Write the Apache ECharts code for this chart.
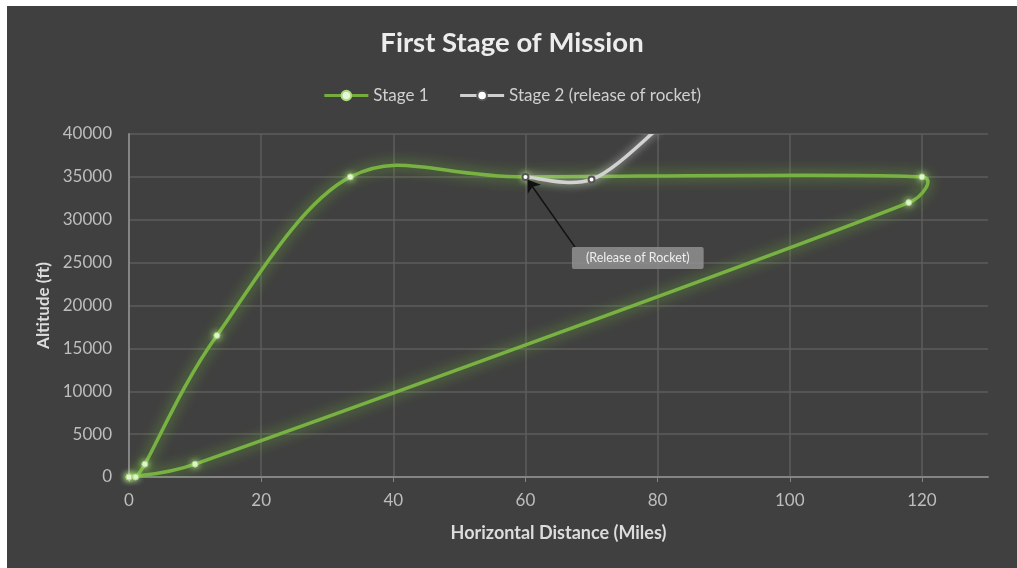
<!DOCTYPE html>
<html><head><meta charset="utf-8">
<script src="https://cdn.jsdelivr.net/npm/echarts@6/dist/echarts.min.js"></script>
<style>
html,body{margin:0;padding:0;background:#ffffff;}
#c{position:absolute;left:7px;top:6px;width:1010px;height:562px;background:#404040;}
</style></head><body><div id="c"></div>
<script>
const titleText = 'First Stage of Mission';
const stage1Name = 'Stage 1';
const stage2Name = 'Stage 2 (release of rocket)';
const xAxisName = 'Horizontal Distance (Miles)';
const yAxisName = 'Altitude (ft)';
const stage1X = [0, 1, 2.4, 13.3, 33.5, 60, 120, 118, 10, 0];
const stage1Y = [0, 0, 1500, 16500, 35000, 35000, 35000, 32000, 1500, 0];
const stage2X = [60, 70, 80];
const stage2Y = [35000, 34700, 40600];
const annotationText = '(Release of Rocket)';
const arrowFrom = [67.5, 26800];
const arrowTo = [60.3, 34700];
const labelAt = [77.0, 25550];

const s1 = stage1X.map((x, i) => [x, stage1Y[i]]);
const s2 = stage2X.map((x, i) => [x, stage2Y[i]]);

// Spreadsheet-style smoothing: Bezier segments with tangent (P2-P0)/6, capped at half the segment length
function smoothRender(points, stroke, width, glow, blur) {
  return function (params, api) {
    const i = params.dataIndex;
    if (i >= points.length - 1) return null;
    const P = points.map(p => api.coord(p));
    const p0 = P[Math.max(i - 1, 0)], p1 = P[i], p2 = P[i + 1], p3 = P[Math.min(i + 2, P.length - 1)];
    const d = (a, b) => Math.hypot(a[0] - b[0], a[1] - b[1]);
    const d12 = d(p1, p2), d02 = d(p0, p2), d13 = d(p1, p3);
    const f = (d02 / 6 < d12 / 2 || d02 === 0) ? 1 / 6 : d12 / d02 / 2;
    const g = (d13 / 6 < d12 / 2 || d13 === 0) ? 1 / 6 : d12 / d13 / 2;
    const cs = params.coordSys;
    return {
      type: 'group',
      clipPath: {type: 'rect', shape: {x: cs.x, y: cs.y, width: cs.width, height: cs.height}},
      children: [{
        type: 'bezierCurve',
        shape: {
          x1: p1[0], y1: p1[1], x2: p2[0], y2: p2[1],
          cpx1: p1[0] + (p2[0] - p0[0]) * f, cpy1: p1[1] + (p2[1] - p0[1]) * f,
          cpx2: p2[0] - (p3[0] - p1[0]) * g, cpy2: p2[1] - (p3[1] - p1[1]) * g
        },
        style: {fill: null, stroke: stroke, lineWidth: width, shadowColor: glow, shadowBlur: blur, lineCap: 'round'}
      }]
    };
  };
}

const chart = echarts.init(document.getElementById('c'));
const font = 'Lato, "Open Sans", sans-serif';
chart.setOption({
  backgroundColor: '#404040',
  animation: false,
  title: {
    text: titleText, left: 'center', top: 18,
    textStyle: {color: '#ececec', fontSize: 27.5, fontWeight: 'bold', fontFamily: font}
  },
  legend: {
    top: 76, left: 'center', itemWidth: 44, itemHeight: 12, itemGap: 30,
    textStyle: {color: '#d0d0d0', fontSize: 17, fontFamily: font},
    data: [
      {name: stage1Name, lineStyle: {color: '#74ad3e', width: 3, opacity: 1}},
      {name: stage2Name, lineStyle: {color: '#cfcfcf', width: 3, opacity: 1}}
    ]
  },
  grid: {left: 122, right: 29, top: 128, bottom: 91},
  xAxis: {
    type: 'value', min: 0, max: 130, interval: 20,
    name: xAxisName, nameLocation: 'middle', nameGap: 47,
    nameTextStyle: {color: '#dcdcdc', fontSize: 18, fontWeight: 'bold', fontFamily: font},
    axisLine: {show: true, lineStyle: {color: '#858585', width: 2}},
    axisTick: {show: true, length: 5, lineStyle: {color: '#858585'}},
    axisLabel: {color: '#bdbdbd', fontSize: 17, fontFamily: font, margin: 15, showMaxLabel: false},
    splitLine: {show: true, showMaxLine: false, showMinLine: false, lineStyle: {color: '#5d5d5d', width: 1.5}}
  },
  yAxis: {
    type: 'value', min: 0, max: 40000, interval: 5000,
    name: yAxisName, nameLocation: 'middle', nameGap: 71, nameRotate: 90,
    nameTextStyle: {color: '#dcdcdc', fontSize: 17, fontWeight: 'bold', fontFamily: font},
    axisLine: {show: true, lineStyle: {color: '#858585', width: 2}},
    axisTick: {show: false},
    axisLabel: {color: '#bdbdbd', fontSize: 17, fontFamily: font, margin: 17, formatter: v => String(v)},
    splitLine: {show: true, lineStyle: {color: '#5d5d5d', width: 1.5}}
  },
  series: [
    {
      name: 'stage1-curve', type: 'custom', data: s1, encode: {x: 0, y: 1},
      renderItem: smoothRender(s1, '#78b242', 3.5, 'rgba(120,190,60,0.95)', 14),
      silent: true, z: 2
    },
    {
      name: 'stage2-curve', type: 'custom', data: s2, encode: {x: 0, y: 1},
      renderItem: smoothRender(s2, '#d2d2d2', 3.5, 'rgba(235,235,235,0.75)', 9),
      silent: true, z: 3
    },
    {
      name: stage1Name, type: 'line', data: s1,
      symbol: 'circle', symbolSize: 6, showSymbol: true,
      itemStyle: {color: '#e6f6d6', borderColor: '#a8d880', borderWidth: 1, shadowColor: 'rgba(190,240,150,0.9)', shadowBlur: 6},
      lineStyle: {opacity: 0, color: '#74ad3e', width: 3},
      z: 4
    },
    {
      name: stage2Name, type: 'line', data: s2,
      symbol: 'emptyCircle', symbolSize: 6,
      itemStyle: {color: '#555555', borderColor: '#dcdcdc', borderWidth: 1.5},
      lineStyle: {opacity: 0, color: '#cfcfcf', width: 3},
      z: 5,
      markLine: {
        silent: true, symbol: ['none', 'arrow'], symbolSize: 12,
        lineStyle: {color: '#111111', width: 1.5, type: 'solid', opacity: 1},
        label: {show: false},
        data: [[{coord: arrowFrom}, {coord: arrowTo}]]
      },
      markPoint: {
        silent: true, symbol: 'rect', symbolSize: 1,
        itemStyle: {color: 'rgba(0,0,0,0)'},
        label: {
          show: true, position: 'inside', formatter: annotationText,
          color: '#eeeeee', fontSize: 12.5, fontFamily: font,
          backgroundColor: 'rgba(145,145,145,0.85)', borderRadius: 2,
          padding: [5, 14, 4, 14]
        },
        data: [{coord: labelAt}]
      }
    }
  ]
});
</script></body></html>
